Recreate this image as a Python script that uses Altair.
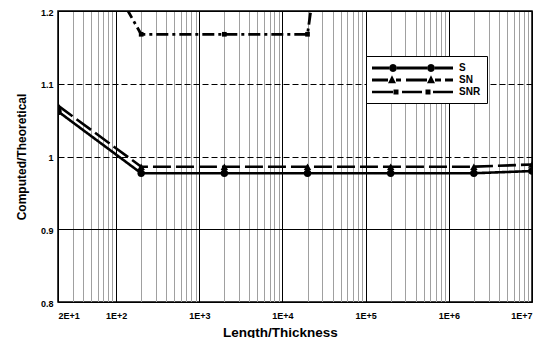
import math
import altair as alt
import pandas as pd

# ---------------- data ----------------
x_vals = [20, 200, 2000, 20000, 200000, 2000000, 10000000]
s_vals = [1.062, 0.977, 0.977, 0.977, 0.977, 0.977, 0.980]
sn_vals = [1.070, 0.986, 0.986, 0.986, 0.986, 0.986, 0.989]
snr_x = [20, 200, 2000, 20000, 200000]
snr_vals = [1.37, 1.168, 1.168, 1.168, 2.0]

series_names = ["S", "SN", "SNR"]
x_tick_values = [20, 100, 1000, 10000, 100000, 1000000, 10000000]
x_tick_labels = ["2E+1", "1E+2", "1E+3", "1E+4", "1E+5", "1E+6", "1E+7"]
y_tick_values = [0.8, 0.9, 1.0, 1.1, 1.2]

rows = []
for xv, yv in zip(x_vals, s_vals):
    rows.append({"x": xv, "y": yv, "series": "S"})
for xv, yv in zip(x_vals, sn_vals):
    rows.append({"x": xv, "y": yv, "series": "SN"})
for xv, yv in zip(snr_x, snr_vals):
    rows.append({"x": xv, "y": yv, "series": "SNR"})
df = pd.DataFrame(rows)

minor = [k * 10 ** d for d in range(1, 7) for k in range(2, 10) if 20 < k * 10 ** d < 1e7]
grid_vals = sorted(set(minor + x_tick_values))
major_js = "[" + ",".join(str(v) for v in x_tick_values) + "]"
label_expr = " : ".join(
    f"datum.value == {v} ? '{l}'" for v, l in zip(x_tick_values, x_tick_labels)
) + " : ''"

FONT = "Liberation Sans"

x_enc = alt.X(
    "x:Q",
    scale=alt.Scale(type="log", domain=[20, 1e7], nice=False),
    axis=alt.Axis(
        values=grid_vals, labelExpr=label_expr, title="Length/Thickness",
        ticks=False, domain=False, labelPadding=9, labelFont=FONT,
        labelFontWeight="bold", labelFontSize=9, labelColor="black",
        labelOverlap=False, titleFont=FONT, titleFontWeight="bold",
        titleFontSize=13.5, titleColor="black", titlePadding=5, titleX=222,
        grid=True,
        gridColor={"condition": {"test": f"indexof({major_js}, datum.value) >= 0", "value": "#000000"},
                   "value": "#a0a0a0"},
        gridOpacity=1, gridWidth=1,
    ),
)
y_enc = alt.Y(
    "y:Q",
    scale=alt.Scale(domain=[0.8, 1.2], nice=False),
    axis=alt.Axis(
        values=y_tick_values, format=".1~f", title="Computed/Theoretical",
        ticks=False, domain=False, labelPadding=5, labelOffset=1,
        labelFont=FONT, labelFontWeight="bold", labelFontSize=9,
        labelColor="black", titleFont=FONT, titleFontWeight="bold",
        titleFontSize=12, titleColor="black", titlePadding=12,
        grid=True, gridColor="#000000", gridOpacity=1, gridWidth=1,
        gridDash={"condition": {"test": "datum.value == 0.9 || datum.value == 0.8 || datum.value == 1.2", "value": []},
                  "value": [6, 3]},
    ),
)

line_styles = {"S": ([1, 0], 2.6), "SN": ([18, 5], 2.6), "SNR": ([12, 4, 3, 4], 2.8)}
line_layers = []
for i, name in enumerate(series_names):
    dash, width = line_styles[name]
    line_layers.append(
        alt.Chart(df).transform_filter(f"datum.series == '{name}'").mark_line(
            color="black", strokeWidth=width, strokeDash=dash, clip=True
        ).encode(x=x_enc if i == 0 else "x:Q", y=y_enc if i == 0 else "y:Q")
    )

pts_s = alt.Chart(df).transform_filter("datum.series == 'S'").mark_point(
    shape="circle", filled=True, color="black", size=55, opacity=1, clip=True
).encode(x="x:Q", y="y:Q")
pts_sn = alt.Chart(df).transform_filter("datum.series == 'SN'").mark_point(
    shape="triangle-up", filled=True, color="black", size=55, opacity=1, clip=True
).encode(x="x:Q", y="y:Q")
pts_snr = alt.Chart(df).transform_filter("datum.series == 'SNR'").mark_point(
    shape="square", filled=True, color="black", size=22, opacity=1, clip=True
).encode(x="x:Q", y="y:Q")

# ---- legend symbols: line sample with markers, as custom symbol paths ----
U = 6.0  # px per unit (symbolSize 144 -> sqrt/2 = 6)


def ux(px):
    return f"{(px - 6.0) / U:.3f}"


def uy(py):
    return f"{py / U:.3f}"


def poly(pts):
    return "M" + "L".join(f"{ux(px)},{uy(py)}" for px, py in pts) + "Z"


def rect(x0, x1, h):
    return poly([(x0, -h), (x1, -h), (x1, h), (x0, h)])


def circ(cx, r):
    return poly([(cx + r * math.cos(2 * math.pi * i / 12), r * math.sin(2 * math.pi * i / 12)) for i in range(12)])


def tri(cx, w, h):
    return poly([(cx - w / 2, h * 0.4), (cx + w / 2, h * 0.4), (cx, -h * 0.6)])


def sq(cx, s):
    return rect(cx - s / 2, cx + s / 2, s / 2)


path_s = rect(0, 17, 1.5) + circ(21, 4) + rect(25, 55, 1.5) + circ(59, 4) + rect(63, 81, 1.5)
path_sn = (rect(0, 16, 1.5) + tri(20, 8, 8) + rect(24, 29, 1.5) + rect(34, 55, 1.5)
           + tri(59, 8, 8) + rect(63, 69, 1.5) + rect(73, 81, 1.5))
path_snr = (rect(0, 21, 1.3) + sq(24, 5) + rect(30, 50, 1.3) + sq(56, 5) + rect(61, 81, 1.3))

# legend-only layer (no marks drawn; the legend comes from the explicit scale domain)
legend_layer = alt.Chart(df).transform_filter("false").mark_point(
    filled=True, color="black", opacity=1, clip=True
).encode(
    x="x:Q",
    y="y:Q",
    shape=alt.Shape(
        "series:N",
        scale=alt.Scale(domain=series_names, range=[path_s, path_sn, path_snr]),
        legend=alt.Legend(
            title=None,
            orient="top-right",
            offset=45,
            symbolSize=144,
            symbolStrokeWidth=0,
            symbolFillColor="black",
            labelFont=FONT,
            labelFontWeight="bold",
            labelFontSize=10,
            labelColor="black",
            labelOffset=75,
            rowPadding=1,
            padding=6,
            strokeColor="black",
            fillColor="white",
        ),
    ),
)

chart = alt.layer(*line_layers, pts_s, pts_sn, pts_snr, legend_layer).properties(
    width=474,
    height=291,
    autosize=alt.AutoSizeParams(type="none"),
    padding={"left": 50, "top": 3, "right": 11, "bottom": 36},
    background="white",
).configure_view(stroke="black", strokeWidth=1.5)

chart.save("out.html", embed_options={"renderer": "svg", "actions": False})
